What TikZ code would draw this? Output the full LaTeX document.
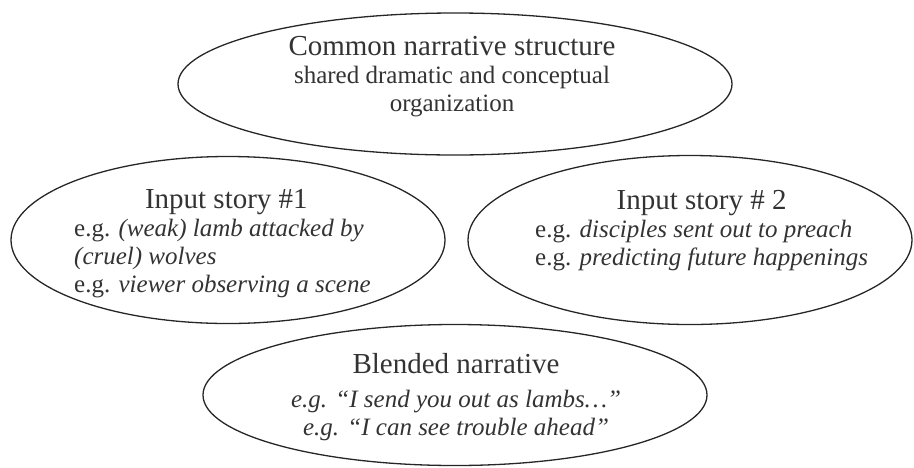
\documentclass[tikz,border=0pt]{standalone}
\usepackage{fontspec}
\setmainfont{Liberation Serif}
\usepackage{xcolor}
\usepackage{tikz}
\usetikzlibrary{shapes.geometric}
\definecolor{inkgrey}{HTML}{333333}
\newcommand{\bodyfont}{\fontsize{25}{28}\selectfont}
\newcommand{\headfont}{\fontsize{29}{28}\selectfont}
\tikzset{
  blob/.style={draw=black!85, line width=1.3pt, ellipse, inner sep=0pt},
  blobtext/.style={inner sep=0pt, text=inkgrey, font=\bodyfont}
}

\begin{document}
\begin{tikzpicture}[x=1pt, y=-1pt]
	\useasboundingbox (0,0) rectangle (914,467);
	% the four spaces
	\node [blob, minimum width=554pt, minimum height=142pt] (common) at (455,84) {};
	\node [blob, minimum width=434pt, minimum height=167pt] (story1) at (228,240) {};
	\node [blob, minimum width=444pt, minimum height=169pt] (story2) at (690,240) {};
	\node [blob, minimum width=504pt, minimum height=141pt] (blend) at (455,395) {};
	% texts
	\node [blobtext, anchor=center] (common text) at (452,77.4) {\begin{tabular}{@{}c@{}}
		{\headfont Common narrative structure}\\
		shared dramatic and conceptual\\
		organization
	\end{tabular}};
	\node [blobtext, anchor=west] (story1 text) at (74,244.4) {\begin{tabular}{@{}l@{}}
		\multicolumn{1}{@{\hspace{8pt}}c@{}}{\headfont Input story \#1}\\
		e.g. \textit{(weak) lamb attacked by}\\
		\textit{(cruel) wolves}\\
		e.g. \textit{viewer observing a scene}
	\end{tabular}};
	\node [blobtext, anchor=west] (story2 text) at (535,231.4) {\begin{tabular}{@{}l@{}}
		\multicolumn{1}{@{}c@{}}{\headfont Input story \# 2}\\
		e.g. \textit{disciples sent out to preach}\\
		e.g. \textit{predicting future happenings}
	\end{tabular}};
	\node [blobtext, anchor=center] (blend text) at (456,398.4) {\begin{tabular}{@{}c@{}}
		{\headfont Blended narrative}\\[6pt]
		\textit{e.g. “I send you out as lambs…”}\\
		\textit{e.g. “I can see trouble ahead”}
	\end{tabular}};
\end{tikzpicture}
\end{document}
